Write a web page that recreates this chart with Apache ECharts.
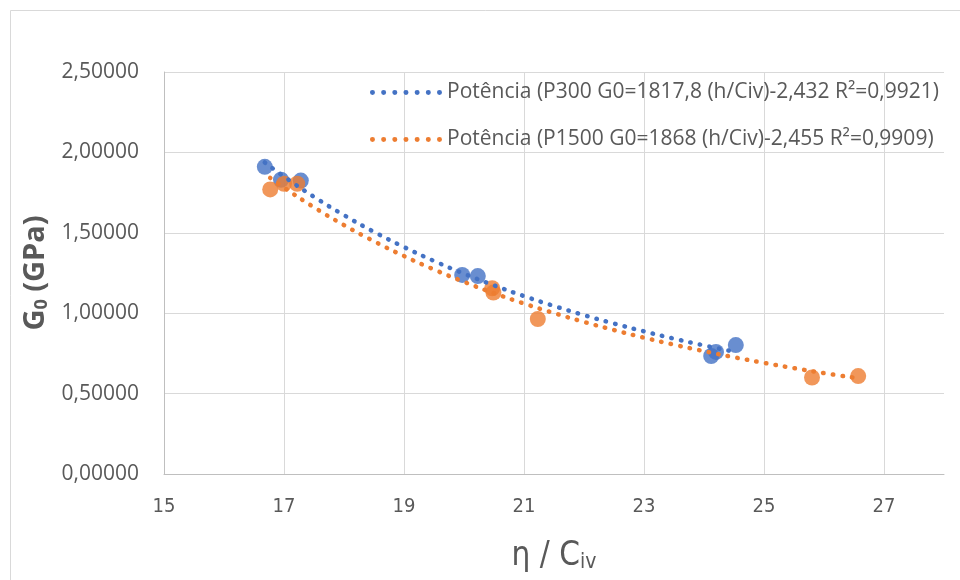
<!DOCTYPE html>
<html>
<head>
<meta charset="utf-8">
<script src="https://cdn.jsdelivr.net/npm/echarts@6/dist/echarts.min.js"></script>
<style>html,body{margin:0;padding:0;background:#fff}#c{width:960px;height:580px}</style>
</head>
<body>
<div id="c"></div>
<script>
// Measured points (η/Civ, G0 in GPa)
const p300X = [16.68, 16.95, 17.28, 19.97, 20.23, 24.12, 24.20, 24.53];
const p300Y = [1.910, 1.830, 1.825, 1.238, 1.231, 0.734, 0.759, 0.802];
const p1500X = [16.77, 17.00, 17.22, 20.47, 20.49, 21.23, 25.80, 26.57];
const p1500Y = [1.770, 1.805, 1.805, 1.155, 1.128, 0.964, 0.600, 0.609];

// Trendline values
const trend300X = [16.68, 17, 17.5, 18, 18.5, 19, 19.5, 20, 20.5, 21, 21.5, 22, 22.5, 23, 23.5, 24, 24.53];
const trend300Y = [1.9373, 1.8497, 1.7238, 1.6096, 1.5058, 1.4113, 1.3249, 1.2458, 1.1732, 1.1064, 1.0449, 0.9880, 0.9355, 0.8868, 0.8416, 0.7996, 0.7582];
const trend1500X = [16.77, 17, 17.5, 18, 18.5, 19, 19.5, 20, 20.5, 21, 21.5, 22, 22.5, 23, 23.5, 24, 24.5, 25, 25.5, 26, 26.57];
const trend1500Y = [1.8413, 1.7809, 1.6585, 1.5477, 1.4470, 1.3553, 1.2716, 1.1950, 1.1247, 1.0601, 1.0006, 0.9457, 0.8949, 0.8479, 0.8043, 0.7638, 0.7261, 0.6909, 0.6581, 0.6275, 0.5950];

const legendNames = [
  'Potência (P300 G0=1817,8 (h/Civ)-2,432 R²=0,9921)',
  'Potência (P1500 G0=1868 (h/Civ)-2,455 R²=0,9909)'
];
const xTicks = [15, 17, 19, 21, 23, 25, 27];
const yTicks = [0, 0.5, 1.0, 1.5, 2.0, 2.5];

const blue = '#4472C4', orange = '#ED7D31';
const zip = (xs, ys) => xs.map((x, i) => [x, ys[i]]);
const narrow = 'Liberation Sans Narrow, DejaVu Sans Condensed, sans-serif';

// dotted legend icon: 7 round dots
let dotPath = 'path://';
for (let i = 0; i < 7; i++) {
  const cx = 2.5 + i * 11.2;
  dotPath += 'M' + (cx - 2.5) + ',2.5a2.5,2.5 0 1,0 5,0a2.5,2.5 0 1,0 -5,0Z';
}

const chart = echarts.init(document.getElementById('c'), null, {renderer: 'canvas'});
chart.setOption({
  animation: false,
  backgroundColor: '#fff',
  graphic: [
    {type: 'line', shape: {x1: 10.5, y1: 10.5, x2: 960, y2: 10.5}, style: {stroke: '#d9d9d9', lineWidth: 1}},
    {type: 'line', shape: {x1: 10.5, y1: 10.5, x2: 10.5, y2: 580}, style: {stroke: '#d9d9d9', lineWidth: 1}}
  ],
  grid: {left: 164, right: 16, top: 72, bottom: 106},
  legend: {
    orient: 'vertical',
    left: 365,
    top: 77,
    itemGap: 26,
    itemWidth: 72,
    itemHeight: 5,
    data: legendNames.map(n => ({name: n, icon: dotPath})),
    textStyle: {color: '#595959', fontSize: 21, fontFamily: 'Open Sans'}
  },
  xAxis: {
    type: 'value',
    min: xTicks[0],
    max: 28,
    interval: 2,
    axisLine: {show: true, onZero: false, lineStyle: {color: '#bfbfbf', width: 1}},
    axisTick: {show: false},
    splitLine: {show: true, showMaxLine: false, lineStyle: {color: '#d9d9d9', width: 1}},
    axisLabel: {showMaxLabel: false, color: '#595959', fontSize: 20, fontFamily: narrow, margin: 23},
    name: '{a|η / C}{s|iv}',
    nameLocation: 'middle',
    nameGap: 61,
    nameTextStyle: {
      rich: {
        a: {fontSize: 33, color: '#595959', fontFamily: narrow, verticalAlign: 'bottom', lineHeight: 38},
        s: {fontSize: 21, color: '#595959', fontFamily: narrow, verticalAlign: 'bottom', lineHeight: 31}
      }
    }
  },
  yAxis: {
    type: 'value',
    min: yTicks[0],
    max: yTicks[yTicks.length - 1],
    interval: 0.5,
    axisLine: {show: true, lineStyle: {color: '#bfbfbf', width: 1}},
    axisTick: {show: false},
    splitLine: {show: true, lineStyle: {color: '#d9d9d9', width: 1}},
    axisLabel: {
      color: '#595959', fontSize: 21, fontFamily: 'Open Sans', margin: 25,
      formatter: v => v.toFixed(5).replace('.', ',')
    },
    name: '{a|G}{s|0}{a| (GPa)}',
    nameLocation: 'middle',
    nameGap: 112,
    nameRotate: 90,
    nameTextStyle: {
      rich: {
        a: {fontSize: 29, fontWeight: 'bold', color: '#595959', fontFamily: 'Open Sans', verticalAlign: 'bottom', lineHeight: 38},
        s: {fontSize: 18, fontWeight: 'bold', color: '#595959', fontFamily: 'Open Sans', verticalAlign: 'bottom', lineHeight: 31}
      }
    }
  },
  series: [
    {
      name: 'P300', type: 'scatter', data: zip(p300X, p300Y), symbolSize: 16,
      itemStyle: {color: blue}, z: 3
    },
    {
      name: 'P1500', type: 'scatter', data: zip(p1500X, p1500Y), symbolSize: 16,
      itemStyle: {color: orange}, z: 4
    },
    {
      name: legendNames[0], type: 'line', data: zip(trend300X, trend300Y), smooth: true,
      showSymbol: false, symbol: 'none', z: 5,
      itemStyle: {color: blue},
      lineStyle: {color: blue, width: 4.5, type: [0.5, 9.2], cap: 'round'}
    },
    {
      name: legendNames[1], type: 'line', data: zip(trend1500X, trend1500Y), smooth: true,
      showSymbol: false, symbol: 'none', z: 5,
      itemStyle: {color: orange},
      lineStyle: {color: orange, width: 4.5, type: [0.5, 9.2], cap: 'round'}
    }
  ]
});
</script>
</body>
</html>
